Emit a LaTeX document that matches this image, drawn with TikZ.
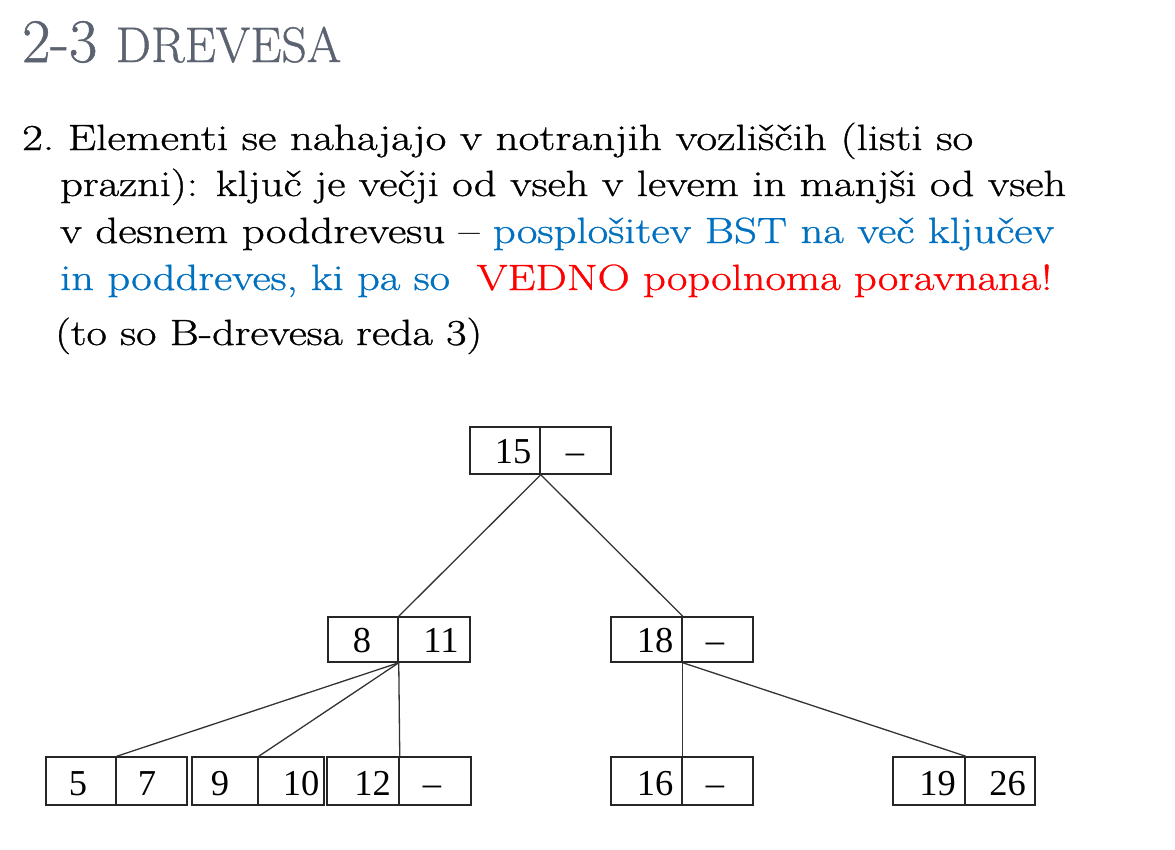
\documentclass[tikz,border=0pt]{standalone}
\usepackage{fontspec}
\usepackage{graphicx}
\usetikzlibrary{fit}
\newfontfamily\bodyfont{Latin Modern Roman}[FakeBold=0.8]
\newfontfamily\treefont{Liberation Serif}
\definecolor{titlegray}{HTML}{5B6270}
\definecolor{slideblue}{HTML}{0070C0}
\definecolor{slidered}{HTML}{FF0000}
\tikzset{
  textline/.style={anchor=base west, inner sep=0pt, font=\bodyfont\fontsize{36.5}{40}\selectfont},
  cell/.style={draw=black!85, line width=1.5pt, inner sep=0pt},
  key/.style={anchor=base, inner sep=0pt, font=\treefont\fontsize{36.5}{36}\selectfont},
  edge/.style={draw=black!80, line width=1.3pt}
}
\begin{document}
\begin{tikzpicture}[x=1pt,y=-1pt]
\useasboundingbox[fill=white] (0,0) rectangle (1175,849);
% title
\node[anchor=base west, inner sep=0pt, text=titlegray, font=\bodyfont] (title) at (22,62)
  {\resizebox{319pt}{\height}{\fontsize{62}{62}\selectfont 2-3 \fontsize{50}{50}\selectfont DREVESA}};
% body text
\node[textline] (l1) at (22,150) {\resizebox{951pt}{\height}{2.\hspace{0.3em}Elementi se nahajajo v notranjih vozliščih (listi so}};
\node[textline] (l2) at (60,196) {\resizebox{1006pt}{\height}{prazni): ključ je večji od vseh v levem in manjši od vseh}};
\node[textline] (l3) at (60,243) {\resizebox{994pt}{\height}{v desnem poddrevesu – \textcolor{slideblue}{posplošitev BST na več ključev}}};
\node[textline] (l4) at (60,290) {\resizebox{992pt}{\height}{\textcolor{slideblue}{in poddreves, ki pa so}\hspace{0.6em}\textcolor{slidered}{VEDNO popolnoma poravnana!}}};
\node[textline] (l5) at (55,345) {\resizebox{427pt}{\height}{(to so B-drevesa reda 3)}};
% cells
\node[cell, fit={(470,427) (540,474)}] (r1) {};
\node[cell, fit={(540,427) (611,474)}] (r2) {};
\node[cell, fit={(328,617) (398,662)}] (a1) {};
\node[cell, fit={(398,617) (470,662)}] (a2) {};
\node[cell, fit={(611,617) (682,662)}] (b1) {};
\node[cell, fit={(682,617) (753,662)}] (b2) {};
\node[cell, fit={(46,757) (116,805)}] (c1) {};
\node[cell, fit={(116,757) (187,805)}] (c2) {};
\node[cell, fit={(192,757) (258,805)}] (d1) {};
\node[cell, fit={(258,757) (324,805)}] (d2) {};
\node[cell, fit={(327,757) (399,805)}] (e1) {};
\node[cell, fit={(399,757) (471,805)}] (e2) {};
\node[cell, fit={(611,757) (682,805)}] (f1) {};
\node[cell, fit={(682,757) (753,805)}] (f2) {};
\node[cell, fit={(893,757) (965,805)}] (g1) {};
\node[cell, fit={(965,757) (1035,805)}] (g2) {};
% keys
\node[key] (k15) at (513,463) {15};
\node[key] (kr2) at (575,463) {–};
\node[key] (k8) at (362,652) {8};
\node[key] (k11) at (441,652) {11};
\node[key] (k18) at (655,652) {18};
\node[key] (kb2) at (715,652) {–};
\node[key] (k5) at (78,795) {5};
\node[key] (k7) at (147,795) {7};
\node[key] (k9) at (220,795) {9};
\node[key] (k10) at (301,795) {10};
\node[key] (k12) at (372.5,795) {12};
\node[key] (ke2) at (432,795) {–};
\node[key] (k16) at (655,795) {16};
\node[key] (kf2) at (715,795) {–};
\node[key] (k19) at (937.5,795) {19};
\node[key] (k26) at (1007.5,795) {26};
% edges
\draw[edge] (r1.south east) -- (a1.north east);
\draw[edge] (r1.south east) -- (b1.north east);
\draw[edge] (a1.south east) -- (c1.north east);
\draw[edge] (a1.south east) -- (d1.north east);
\draw[edge] (a1.south east) -- (e1.north east);
\draw[edge] (b1.south east) -- (f1.north east);
\draw[edge] (b1.south east) -- (g1.north east);
\end{tikzpicture}
\end{document}
